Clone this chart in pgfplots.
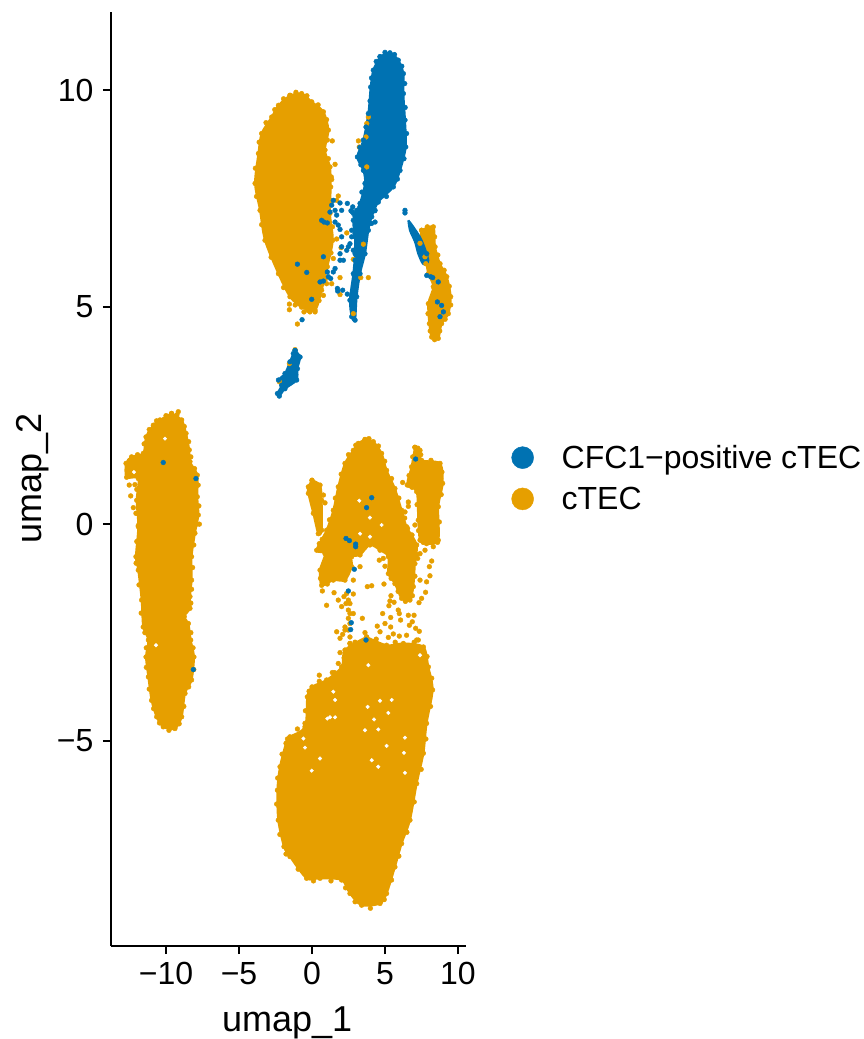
\documentclass[border=0pt]{standalone}
\usepackage{fontspec}
\setmainfont{Liberation Sans}
\usepackage{pgfplots}
\usepackage{pgfplotstable}
\pgfplotsset{compat=1.18}

\definecolor{cblue}{HTML}{0072B2}
\definecolor{corange}{HTML}{E69F00}

% cluster outlines, umap coordinates
\pgfplotstableread[row sep=\\]{x y\\
-1.51 9.88\\-0.71 9.92\\-0.02 9.73\\0.78 9.50\\1.12 9.08\\0.89 8.62\\1.23 8.23\\1.28 7.77\\1.23 7.16\\1.42 6.54\\1.05 5.93\\0.66 5.39\\0.21 4.93\\-0.71 5.00\\-1.51 5.24\\-2.30 5.77\\-3.22 6.54\\-3.56 7.23\\-3.90 7.85\\-3.67 8.54\\-3.45 9.00\\-2.76 9.38\\-2.30 9.65\\-1.51 9.88\\
}\clusterA
\pgfplotstableread[row sep=\\]{x y\\
7.51 6.77\\8.31 6.85\\8.43 6.39\\8.77 6.00\\9.23 5.70\\9.50 5.24\\9.34 4.85\\8.88 4.62\\8.65 4.28\\8.20 4.31\\8.04 4.62\\7.97 5.08\\8.31 5.47\\7.97 5.77\\7.74 6.16\\7.40 6.47\\7.51 6.77\\
}\clusterC
\pgfplotstableread[row sep=\\]{x y\\
-9.62 2.55\\-8.93 2.40\\-8.63 2.09\\-8.41 1.71\\-8.36 1.44\\-7.86 1.13\\-7.86 0.63\\-7.79 0.21\\-8.02 -0.21\\-8.25 -0.75\\-8.25 -1.29\\-8.36 -1.67\\-8.36 -1.94\\-8.75 -2.13\\-8.47 -2.29\\-8.31 -2.67\\-8.09 -3.06\\-8.25 -3.59\\-8.70 -3.90\\-8.93 -4.44\\-9.39 -4.71\\-10.19 -4.67\\-10.64 -4.44\\-10.99 -4.06\\-11.21 -3.52\\-11.37 -3.06\\-11.21 -2.67\\-11.56 -2.37\\-11.67 -1.75\\-11.90 -1.06\\-12.06 -0.75\\-11.90 -0.06\\-12.01 0.55\\-11.90 1.05\\-12.70 1.08\\-12.74 1.40\\-12.36 1.55\\-11.56 1.63\\-11.37 2.01\\-10.87 2.28\\-10.42 2.40\\-9.62 2.55\\
}\clusterE
\pgfplotstableread[row sep=\\]{x y\\
3.63 1.95\\4.20 1.90\\4.77 1.63\\5.11 1.24\\5.68 0.82\\6.14 0.32\\6.48 -0.06\\7.17 -0.48\\7.05 -0.91\\6.94 -1.44\\6.71 -1.75\\6.14 -1.71\\5.68 -1.37\\5.23 -1.14\\5.23 -0.75\\4.66 -0.60\\3.97 -0.48\\3.29 -0.71\\2.72 -0.75\\2.72 -0.98\\2.26 -1.29\\1.46 -1.29\\0.66 -1.41\\0.55 -1.06\\0.89 -0.68\\0.32 -0.60\\1.00 -0.14\\1.46 0.32\\1.80 0.86\\2.26 1.40\\2.83 1.70\\3.17 1.86\\3.63 1.95\\
}\clusterF
\pgfplotstableread[row sep=\\]{x y\\
7.05 1.77\\7.40 1.70\\7.51 1.47\\8.77 1.40\\8.95 0.94\\8.65 0.40\\8.65 -0.37\\7.85 -0.45\\7.40 -0.37\\7.28 0.09\\7.17 0.75\\6.53 0.90\\6.82 1.32\\7.05 1.77\\
}\clusterG
\pgfplotstableread[row sep=\\]{x y\\
0.00 1.01\\0.55 0.90\\0.66 0.55\\0.66 -0.14\\0.43 -0.22\\0.09 0.25\\-0.25 0.71\\-0.25 0.86\\0.00 1.01\\
}\clusterH
\pgfplotstableread[row sep=\\]{x y\\
3.74 -2.60\\5.11 -2.79\\6.26 -2.75\\7.63 -2.83\\7.97 -3.29\\8.26 -3.82\\7.85 -4.59\\7.63 -5.28\\7.17 -5.98\\6.71 -6.82\\6.14 -7.36\\5.68 -7.90\\5.11 -8.51\\4.66 -8.74\\3.40 -8.78\\2.60 -8.51\\2.03 -8.20\\0.55 -8.16\\-0.37 -8.16\\-1.51 -7.66\\-1.92 -7.43\\-2.31 -6.82\\-2.37 -6.13\\-2.19 -5.59\\-1.78 -5.05\\-1.51 -4.90\\-0.48 -4.67\\-0.32 -3.98\\0.00 -3.75\\1.00 -3.59\\2.03 -3.29\\2.26 -2.90\\3.74 -2.60\\
}\clusterI
\pgfplotstableread[row sep=\\]{x y\\
4.66 10.77\\5.34 10.86\\5.91 10.69\\6.26 10.38\\6.26 9.92\\6.37 9.31\\6.42 8.69\\6.03 8.15\\5.57 7.77\\4.54 7.42\\4.09 7.08\\3.86 6.77\\3.63 6.23\\3.29 5.77\\3.06 5.24\\2.95 4.70\\2.72 4.78\\2.60 5.16\\2.83 5.77\\2.95 6.23\\2.95 6.62\\2.83 7.00\\3.29 7.39\\3.63 7.85\\3.52 8.15\\3.11 8.46\\3.52 8.85\\3.86 9.46\\4.02 10.07\\4.20 10.46\\4.66 10.77\\
}\clusterB
\pgfplotstableread[row sep=\\]{x y\\
6.60 7.00\\6.94 6.85\\7.51 6.54\\7.97 6.08\\7.63 5.99\\7.28 6.23\\7.06 6.50\\6.71 6.77\\6.60 7.00\\
}\streak
\pgfplotstableread[row sep=\\]{x y\\
-1.16 4.00\\-0.82 3.85\\-1.00 3.58\\-1.05 3.32\\-1.85 3.12\\-2.24 2.95\\-2.37 3.01\\-2.08 3.20\\-2.30 3.32\\-1.85 3.47\\-1.51 3.74\\-1.28 3.93\\-1.16 4.00\\
}\clusterD

% cells along the cluster rims
\pgfplotstableread[row sep=\\]{x y\\
-1.10 9.95\\-0.35 9.87\\0.42 9.66\\1.00 9.32\\1.05 8.85\\1.12 8.42\\1.32 8.00\\1.33 7.45\\1.40 6.85\\1.30 6.25\\0.92 5.65\\0.48 5.15\\-0.25 4.92\\-1.15 5.05\\-1.95 5.45\\-2.80 6.15\\-3.45 6.90\\-3.80 7.55\\-3.88 8.20\\-3.62 8.80\\-3.15 9.25\\-2.55 9.55\\-1.95 9.80\\
-9.25 2.52\\-8.75 2.25\\-8.45 1.90\\-8.30 1.55\\-8.05 1.28\\-7.80 0.90\\-7.75 0.42\\-7.90 0.00\\-8.10 -0.48\\-8.18 -1.00\\-8.25 -1.50\\-8.30 -1.82\\-8.30 -2.50\\-8.15 -2.85\\-8.10 -3.35\\-8.45 -3.75\\-8.78 -4.20\\-9.10 -4.60\\-9.80 -4.75\\-10.45 -4.58\\-10.85 -4.25\\-11.15 -3.80\\-11.35 -3.30\\-11.35 -2.85\\-11.45 -2.50\\-11.70 -2.05\\-11.85 -1.40\\-12.05 -0.90\\-12.00 -0.40\\-12.00 0.25\\-12.00 0.80\\-12.30 1.15\\-11.95 1.60\\-11.50 1.85\\-11.15 2.18\\-10.65 2.38\\-10.00 2.50\\
4.40 -2.65\\5.70 -2.72\\7.00 -2.72\\7.88 -3.05\\8.20 -3.55\\8.12 -4.20\\7.80 -4.95\\7.48 -5.65\\7.00 -6.40\\6.50 -7.10\\5.95 -7.65\\5.45 -8.20\\4.95 -8.65\\4.00 -8.85\\2.95 -8.70\\2.30 -8.38\\1.30 -8.22\\0.10 -8.22\\-0.95 -7.95\\-1.78 -7.60\\-2.20 -7.15\\-2.42 -6.45\\-2.35 -5.85\\-2.05 -5.30\\-1.68 -4.95\\-1.00 -4.72\\-0.45 -4.30\\-0.20 -3.85\\0.50 -3.62\\1.55 -3.42\\2.20 -3.08\\2.95 -2.72\\
3.90 1.97\\4.55 1.80\\4.98 1.45\\5.45 1.05\\5.95 0.60\\6.35 0.14\\6.85 -0.25\\7.18 -0.70\\7.05 -1.20\\6.88 -1.65\\6.40 -1.78\\5.90 -1.55\\5.42 -1.25\\1.05 -1.38\\0.58 -1.25\\0.50 -0.45\\0.70 -0.35\\1.20 0.10\\1.60 0.60\\2.00 1.15\\2.50 1.60\\3.00 1.82\\
7.25 1.75\\7.45 1.60\\8.15 1.47\\8.90 1.20\\8.85 0.68\\8.72 0.05\\8.60 -0.42\\8.20 -0.43\\7.62 -0.42\\7.30 -0.15\\7.20 0.45\\6.85 0.85\\6.65 1.12\\6.90 1.55\\
7.90 6.85\\8.40 6.62\\8.62 6.20\\9.05 5.85\\9.40 5.48\\9.50 5.05\\9.12 4.72\\8.75 4.45\\8.40 4.25\\8.10 4.45\\7.95 4.85\\7.80 6.00\\
}\orangerim
\pgfplotstableread[row sep=\\]{x y\\
5.00 10.87\\5.65 10.82\\6.15 10.55\\6.35 10.15\\6.38 9.60\\6.48 9.00\\6.30 8.42\\5.85 7.95\\5.10 7.55\\4.30 7.22\\2.75 7.20\\3.42 7.65\\3.35 8.28\\3.28 8.68\\3.70 9.15\\3.98 9.75\\4.08 10.28\\4.40 10.66\\
3.29 7.31\\3.63 7.16\\4.09 7.19\\3.06 6.96\\2.83 7.16\\4.09 6.93\\3.06 6.54\\2.83 6.31\\2.95 6.08\\
}\bluerim

% single cells away from the clusters
\pgfplotstableread[row sep=\\]{x y\\
1.39 8.83\\0.96 8.86\\1.58 8.29\\1.35 7.94\\1.80 7.56\\1.69 7.46\\1.69 6.57\\2.38 6.71\\1.99 6.37\\1.46 6.12\\2.83 6.10\\1.92 5.68\\3.86 5.68\\3.34 5.68\\1.92 5.29\\1.00 5.54\\1.35 5.54\\-1.55 5.07\\-1.55 4.94\\-0.55 4.89\\-1.00 4.61\\-0.14 4.89\\0.21 4.89\\0.78 5.27\\
3.75 9.23\\3.70 8.92\\3.18 8.83\\3.24 8.69\\3.75 8.23\\3.86 9.38\\-1.16 4.02\\-1.55 3.70\\-2.24 3.28\\
-9.16 2.59\\-12.42 0.65\\-12.24 0.38\\-11.90 -0.03\\-12.06 0.25\\-7.72 0.00\\-12.52 0.90\\-12.13 0.91\\-8.70 -1.98\\
0.89 0.49\\0.78 0.67\\6.21 0.96\\6.60 0.51\\6.60 0.41\\6.37 0.28\\6.55 -0.10\\7.05 -0.02\\6.76 -0.25\\8.31 -0.52\\8.20 -0.85\\8.04 -0.98\\8.08 -1.19\\7.85 -1.33\\7.78 -1.57\\7.51 -1.71\\7.33 -1.81\\7.40 -1.29\\7.74 -0.60\\7.40 -0.68\\7.24 -0.79\\4.61 -0.83\\4.88 -0.79\\5.00 -0.97\\4.93 -1.38\\4.09 -1.42\\3.79 -1.44\\3.29 -0.98\\2.83 -1.29\\2.83 -1.61\\2.49 -1.75\\2.19 -1.67\\1.51 -1.58\\1.80 -1.75\\2.03 -1.90\\1.00 -1.87\\0.71 -1.54\\2.33 -1.83\\2.60 -2.06\\2.83 -2.06\\2.49 -2.17\\2.26 -2.37\\3.45 -2.17\\4.84 -2.06\\5.39 -2.15\\5.00 -2.29\\5.39 -2.37\\4.47 -2.35\\5.91 -1.98\\5.98 -2.06\\5.34 -1.77\\5.62 -1.80\\5.27 -1.88\\5.41 -1.65\\6.07 -2.21\\6.60 -2.10\\6.99 -2.10\\6.87 -2.25\\6.67 -2.33\\7.10 -2.40\\7.35 -2.47\\6.48 -2.56\\7.28 -2.67\\5.57 -2.53\\5.98 -2.58\\5.23 -2.61\\4.66 -2.48\\3.63 -2.50\\1.69 -2.48\\2.10 -2.54\\1.92 -2.63\\2.60 -2.60\\2.26 -2.44\\2.37 -1.60\\2.60 -1.83\\2.49 -1.98\\2.60 -2.29\\2.49 -2.44\\2.60 -2.75\\
0.50 -3.48\\1.39 -3.42\\1.80 -3.21\\1.92 -2.96\\2.60 -2.75\\-0.48 -4.59\\7.17 -2.67\\
}\orangecells
\pgfplotstableread[row sep=\\]{x y\\
2.42 7.39\\1.92 7.40\\1.46 7.46\\1.35 7.35\\1.23 7.19\\1.58 7.23\\1.69 7.12\\2.03 7.23\\2.67 7.22\\1.58 6.96\\1.80 6.89\\0.66 7.00\\0.82 6.96\\1.05 6.94\\1.92 6.79\\2.79 7.31\\2.95 7.08\\3.06 7.23\\4.32 7.23\\4.32 6.96\\3.97 6.93\\2.72 6.77\\2.95 6.70\\2.03 6.62\\2.72 6.62\\2.38 6.31\\2.49 6.39\\2.03 6.39\\1.92 6.23\\1.92 6.08\\2.15 6.08\\2.60 6.46\\1.58 5.89\\1.46 5.81\\1.05 5.81\\1.28 5.66\\1.12 5.70\\0.55 5.58\\0.78 5.60\\1.74 5.43\\1.76 5.37\\2.10 5.39\\2.42 5.30\\2.72 5.24\\0.78 6.16\\-1.00 5.99\\-0.36 5.80\\-0.02 5.18\\-0.68 4.71\\
6.37 7.23\\6.37 7.17\\7.86 5.73\\8.13 5.70\\8.65 5.58\\8.59 5.12\\8.88 5.04\\8.77 4.78\\9.00 4.89\\8.27 5.68\\7.86 6.23\\
-10.19 1.42\\-7.95 1.05\\-8.13 -3.35\\
7.10 1.50\\4.09 0.61\\3.74 0.38\\2.33 -0.33\\2.56 -0.38\\2.99 -0.46\\2.99 -0.52\\2.90 -1.04\\2.49 -1.54\\2.69 -2.27\\2.65 -2.43\\3.70 -2.67\\
}\bluecells
\pgfplotstableread[row sep=\\]{x y\\
3.86 -3.25\\5.46 -4.05\\4.66 -4.07\\3.81 -4.21\\1.23 -4.45\\1.58 -4.45\\1.05 -4.48\\4.25 -4.50\\3.63 -4.75\\4.54 -4.73\\-0.59 -4.94\\-0.02 -5.68\\0.55 -5.40\\4.09 -5.44\\4.54 -5.59\\6.37 -5.73\\6.30 -5.27\\5.23 -4.35\\5.11 -5.11\\1.46 -3.86\\1.58 -4.05\\6.37 -4.92\\-0.48 -5.15\\7.40 -3.02\\
3.24 0.54\\3.97 0.15\\4.77 -0.02\\3.97 -0.29\\3.29 -0.22\\
-10.07 1.97\\-10.69 -2.79\\-12.20 1.20\\
}\emptyspots

\pgfplotsset{
  cluster/.style={draw=#1, fill=#1, line width=2pt, line join=round, smooth, tension=0.5, mark=none, forget plot},
  dots/.style={only marks, mark=*, mark size=2.4pt, color=#1, mark options={draw=none, fill=#1}, forget plot},
}

\begin{document}
\begin{tikzpicture}[x=1pt,y=1pt]
\useasboundingbox (0,0) rectangle (863,1039);
\begin{axis}[
  at={(111pt,93pt)}, anchor=south west,
  scale only axis, width=355pt, height=934pt,
  xmin=-13.77, xmax=10.55, ymin=-9.72, ymax=11.8,
  axis x line*=bottom, axis y line*=left,
  axis line style={-, line width=2.4pt, black},
  tick style={line width=2.4pt, black},
  tick align=outside, major tick length=8pt,
  xtick={-10,-5,0,5,10}, ytick={-5,0,5,10},
  xticklabels={−10,−5,0,5,10}, yticklabels={−5,0,5,10},
  tick label style={font=\fontsize{32}{36}\selectfont},
  xticklabel style={yshift=-5pt}, yticklabel style={xshift=-6pt},
  xlabel={umap\_1}, ylabel={umap\_2},
  xlabel style={at={(axis description cs:0.496,-0.0824)}, anchor=center, font=\fontsize{36}{40}\selectfont},
  ylabel style={at={(axis description cs:-0.22,0.501)}, anchor=center, font=\fontsize{36}{40}\selectfont},
  legend style={at={(axis description cs:1.128,0.501)}, anchor=west, draw=none, fill=none, font=\fontsize{32}{36}\selectfont, row sep=13pt, inner sep=0pt},
  legend cell align=left,
]
\addlegendimage{only marks, mark=*, mark size=11pt, color=cblue, mark options={draw=none, fill=cblue}}
\addlegendentry{\hspace*{26pt}CFC1−positive cTEC}
\addlegendimage{only marks, mark=*, mark size=11pt, color=corange, mark options={draw=none, fill=corange}}
\addlegendentry{\hspace*{26pt}cTEC}

\addplot[cluster=corange] table {\clusterA};
\addplot[cluster=corange] table {\clusterC};
\addplot[cluster=corange] table {\clusterE};
\addplot[cluster=corange] table {\clusterF};
\addplot[cluster=corange] table {\clusterG};
\addplot[cluster=corange] table {\clusterH};
\addplot[cluster=corange] table {\clusterI};
\addplot[dots=corange] table {\clusterA};
\addplot[dots=corange] table {\clusterC};
\addplot[dots=corange] table {\clusterE};
\addplot[dots=corange] table {\clusterF};
\addplot[dots=corange] table {\clusterG};
\addplot[dots=corange] table {\clusterH};
\addplot[dots=corange] table {\clusterI};
\addplot[dots=corange] table {\orangerim};
\addplot[dots=corange] table {\orangecells};
\addplot[dots=white, mark size=1.8pt] table {\emptyspots};

\addplot[cluster=cblue] table {\clusterB};
\addplot[cluster=cblue] table {\clusterD};
\addplot[cluster=cblue] table {\streak};
\addplot[dots=cblue] table {\clusterB};
\addplot[dots=cblue] table {\clusterD};
\addplot[dots=cblue] table {\bluerim};
\addplot[dots=cblue] table {\bluecells};
\addplot[dots=corange] coordinates {(2.83,4.85) (3.52,6.45)};
\end{axis}
\end{tikzpicture}
\end{document}
